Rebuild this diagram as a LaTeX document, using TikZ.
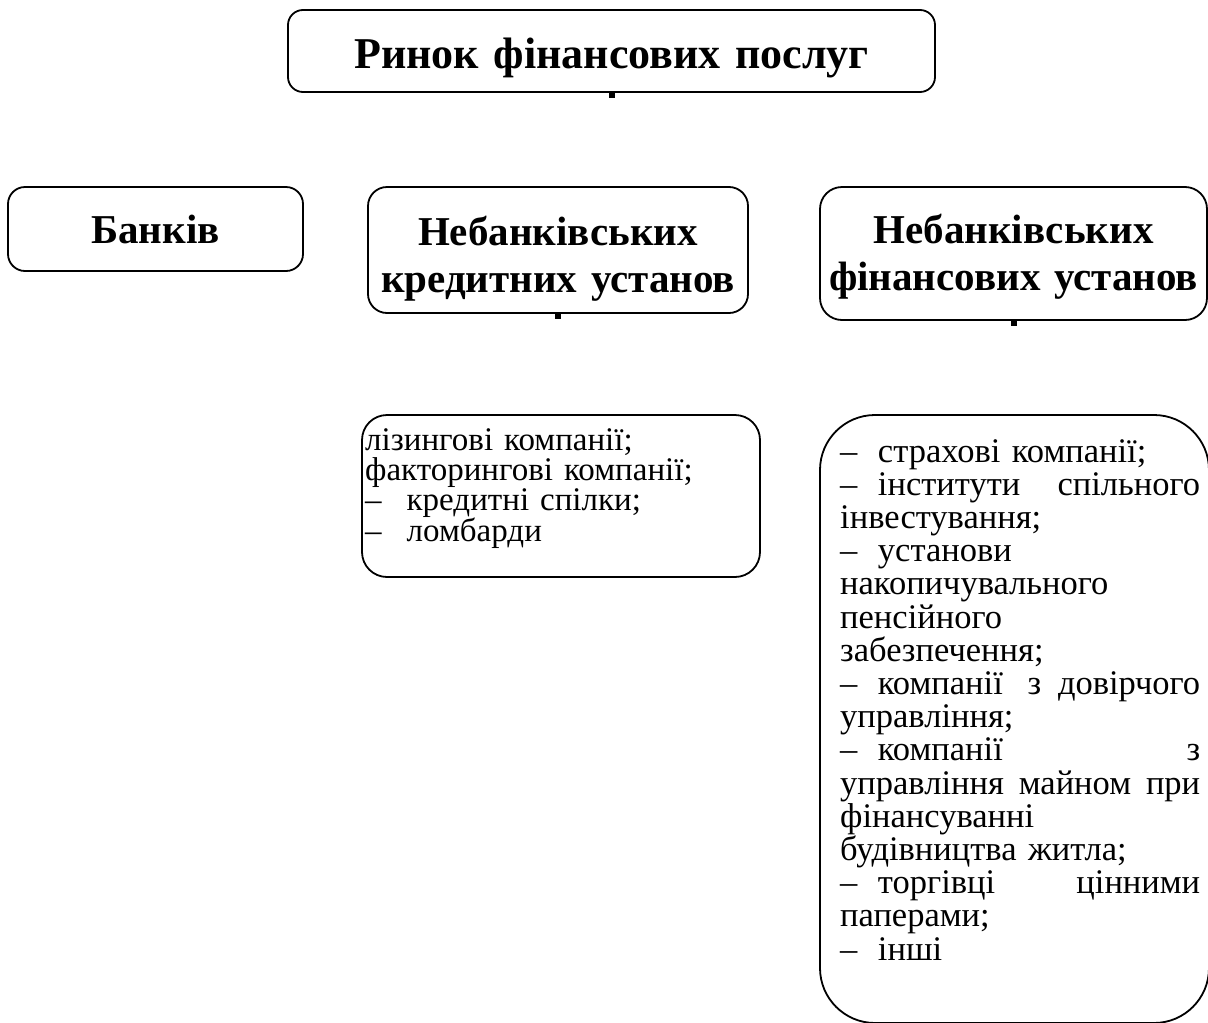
\documentclass[tikz,border=0pt]{standalone}
\usepackage{fontspec}
\setmainfont{Liberation Serif}
% dash that opens a list item, followed by a fixed gap
\newcommand\dsh[1]{–\kern #1pt}
\begin{document}
\begin{tikzpicture}[x=1pt,y=-1pt,
  frame/.style={draw, line width=1.8pt, inner sep=0pt},
  head/.style={frame, rounded corners=#1, align=center},
  listbox/.style={frame, rounded corners=#1},
  listtext/.style={inner sep=0pt, anchor=base west, align=left},
  stub/.style={line width=6pt}]
\useasboundingbox (0,0) rectangle (1208,1023);
\clip (0,0) rectangle (1208,1023);

% top level
\node[head=15pt, minimum width=647pt, minimum height=82pt,
      text width=600pt, text height=34pt, text depth=0pt,
      font=\fontsize{44}{47}\selectfont\bfseries] (market) at (611.5,51)
  {Ринок фінансових послуг};
\draw[stub] (market.south) -- ++(0,5);

% second level
\node[head=17pt, minimum width=295pt, minimum height=84pt,
      text width=280pt, text height=28pt, text depth=0pt,
      font=\fontsize{41}{47}\selectfont\bfseries] (banks) at (155.5,229)
  {Банків};
\node[head=19pt, minimum width=380pt, minimum height=126pt,
      text width=370pt, text height=30pt, text depth=40pt,
      font=\fontsize{41}{47}\selectfont\bfseries] (credit) at (558,250)
  {Небанківських\\кредитних установ};
\draw[stub] (credit.south) -- ++(0,5);
\node[head=22pt, minimum width=387pt, minimum height=133pt,
      text width=380pt, text height=30pt, text depth=51pt,
      font=\fontsize{41}{47}\selectfont\bfseries] (finance) at (1013.5,253.5)
  {Небанківських\\фінансових установ};
\draw[stub] (finance.south) -- ++(0,5);

% lists of institutions
\node[listbox=25pt, minimum width=398pt, minimum height=162pt] (creditlist) at (561,496) {};
\node[listtext, text width=390pt, font=\fontsize{33}{30}\selectfont] (credititems) at (365,450)
  {лізингові компанії;\\
   факторингові компанії;\\
   \dsh{25}кредитні спілки;\\
   \dsh{25}ломбарди};

\node[listbox=55pt, minimum width=389pt, minimum height=608pt] (financelist) at (1014.5,719) {};
\node[listtext, text width=360pt, font=\fontsize{34.5}{33.2}\selectfont] (financeitems) at (840,462)
  {\dsh{20.5}страхові компанії;\\
   \makebox[360pt][s]{\dsh{20.5}інститути\hfill спільного}\\
   інвестування;\\
   \dsh{20.5}установи\\
   накопичувального\\
   пенсійного\\
   забезпечення;\\
   \makebox[360pt][s]{\dsh{20.5}компанії\hspace{8pt}\hfill з\hfill довірчого}\\
   управління;\\
   \makebox[360pt][s]{\dsh{20.5}компанії\hfill з}\\
   \makebox[360pt][s]{управління\hfill майном\hfill при}\\
   фінансуванні\\
   будівництва житла;\\
   \makebox[360pt][s]{\dsh{20.5}торгівці\hfill цінними}\\
   паперами;\\
   \dsh{20.5}інші};
\end{tikzpicture}
\end{document}
